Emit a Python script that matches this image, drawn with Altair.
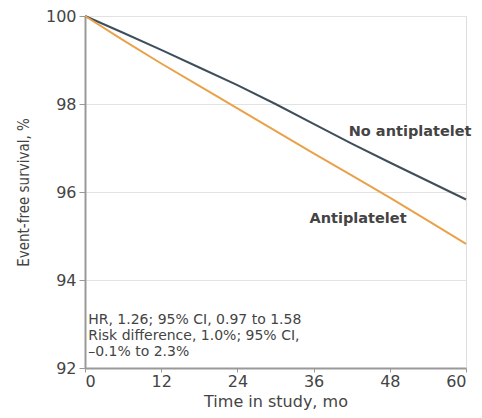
import altair as alt
import pandas as pd

months = [0, 6, 12, 18, 24, 30, 36, 42, 48, 54, 60]
no_antiplatelet = [100, 99.62, 99.23, 98.83, 98.43, 98.0, 97.55, 97.1, 96.67, 96.25, 95.83]
antiplatelet = [100, 99.45, 98.92, 98.41, 97.9, 97.39, 96.88, 96.38, 95.87, 95.35, 94.82]

series_names = ["No antiplatelet", "Antiplatelet"]
series_colors = ["#3e4f5b", "#e9a24a"]

label_text = ["No antiplatelet", "Antiplatelet"]
label_x = [51.2, 43.0]
label_y = [97.36, 95.38]

note_lines = ["HR, 1.26; 95% CI, 0.97 to 1.58",
              "Risk difference, 1.0%; 95% CI,",
              "–0.1% to 2.3%"]
note_x = [0.5, 0.5, 0.5]
note_y = [93.09, 92.73, 92.36]

rows = []
for name, vals in zip(series_names, [no_antiplatelet, antiplatelet]):
    for m, v in zip(months, vals):
        rows.append({"month": m, "survival": v, "group": name})
df = pd.DataFrame(rows)

labels_df = pd.DataFrame({"text": label_text, "x": label_x, "y": label_y})
notes_df = pd.DataFrame({"text": note_lines, "x": note_x, "y": note_y})

FONT = "DejaVu Sans"

xscale = alt.Scale(domain=[0, 60], nice=False, zero=False)
yscale = alt.Scale(domain=[92, 100], nice=False, zero=False)

lines = alt.Chart(df).mark_line(strokeWidth=2).encode(
    x=alt.X("month:Q", scale=xscale,
            axis=alt.Axis(title="Time in study, mo", values=[0, 12, 24, 36, 48, 60],
                          grid=False, tickSize=4, labelFontSize=16, titleFontSize=16,
                          labelFont=FONT, titleFont=FONT, titleFontWeight="normal",
                          labelColor="#444", titleColor="#444", domainColor="#999",
                          tickColor="#999", domainWidth=2, labelPadding=1, titlePadding=4)),
    y=alt.Y("survival:Q", scale=yscale,
            axis=alt.Axis(title="Event-free survival, %", values=[92, 94, 96, 98, 100],
                          grid=True, gridColor="#e2e2e2", tickSize=6, labelFontSize=16,
                          titleFontSize=15, labelFont=FONT, titleFont="DejaVu Sans Condensed",
                          titleFontWeight="normal", labelColor="#444", titleColor="#444",
                          domainColor="#999", tickColor="#999", domainWidth=2,
                          labelPadding=3, titlePadding=14)),
    color=alt.Color("group:N", scale=alt.Scale(domain=series_names, range=series_colors),
                    legend=None),
)

labels = alt.Chart(labels_df).mark_text(fontSize=14.5, font=FONT, color="#444",
                                        fontWeight="bold", align="center").encode(
    x=alt.X("x:Q", scale=xscale), y=alt.Y("y:Q", scale=yscale), text="text:N")

notes = alt.Chart(notes_df).mark_text(fontSize=14, font=FONT, color="#444",
                                      align="left", baseline="middle").encode(
    x=alt.X("x:Q", scale=xscale), y=alt.Y("y:Q", scale=yscale), text="text:N")

chart = alt.layer(lines, labels, notes).properties(
    width=381, height=352,
    autosize=alt.AutoSizeParams(type="none"),
    padding={"left": 77, "top": 8, "right": 8, "bottom": 42},
).configure_view(stroke=None).configure(background="white")

chart.save("out.html", embed_options={"renderer": "svg", "actions": False})
